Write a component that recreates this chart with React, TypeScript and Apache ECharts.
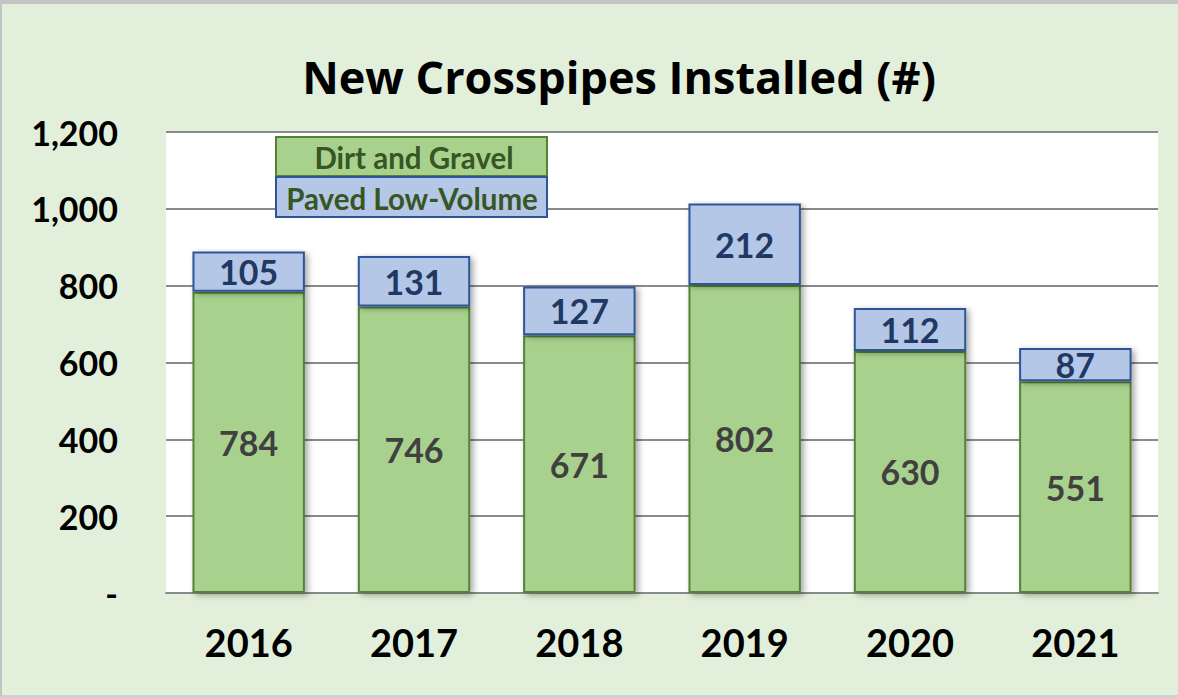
import React, { useEffect, useRef } from "react";
import * as echarts from "echarts";

const years = ["2016", "2017", "2018", "2019", "2020", "2021"];
const dirtGravel = [784, 746, 671, 802, 630, 551];
const pavedLowVolume = [105, 131, 127, 212, 112, 87];
const legendNames = ["Dirt and Gravel", "Paved Low-Volume"];
const titleText = "New Crosspipes Installed (#)";

const FONT = "Lato";

export default function App() {
  const ref = useRef<HTMLDivElement>(null);
  useEffect(() => {
    if (!ref.current) return;
    const chart = echarts.init(ref.current, undefined, { renderer: "svg" });
    const shadow = {
      shadowColor: "rgba(0,0,0,0.35)",
      shadowBlur: 6,
      shadowOffsetX: 3,
      shadowOffsetY: 2,
    };
    chart.setOption({
      animation: false,
      backgroundColor: "transparent",
      grid: {
        left: 166,
        right: 20,
        top: 132,
        bottom: 105,
        show: true,
        backgroundColor: "#ffffff",
        borderWidth: 0,
      },
      xAxis: {
        type: "category",
        data: years,
        axisTick: { show: false },
        axisLine: { show: true, lineStyle: { color: "#8a8a8a", width: 2 } },
        axisLabel: {
          margin: 30,
          color: "#000",
          fontFamily: FONT,
          fontWeight: "bold",
          fontSize: 38,
        },
      },
      yAxis: {
        type: "value",
        min: 0,
        max: 1200,
        interval: 200,
        axisLine: { show: false },
        axisTick: { show: false },
        splitLine: { lineStyle: { color: "#8a8a8a", width: 2 } },
        axisLabel: {
          margin: 48,
          color: "#000",
          fontFamily: FONT,
          fontWeight: "bold",
          fontSize: 34,
          formatter: (v: number) => (v === 0 ? "-" : v.toLocaleString("en-US")),
        },
      },
      series: [
        {
          name: legendNames[0],
          type: "bar",
          stack: "total",
          data: dirtGravel,
          barCategoryGap: "32%",
          itemStyle: { color: "#a9d18e", borderColor: "#548235", borderWidth: 2, ...shadow },
          label: {
            show: true,
            position: "inside",
            color: "#404040",
            fontFamily: FONT,
            fontWeight: "bold",
            fontSize: 34,
          },
        },
        {
          name: legendNames[1],
          type: "bar",
          stack: "total",
          data: pavedLowVolume,
          itemStyle: { color: "#b4c7e7", borderColor: "#2f5597", borderWidth: 2, ...shadow },
          label: {
            show: true,
            position: "inside",
            color: "#1f3864",
            fontFamily: FONT,
            fontWeight: "bold",
            fontSize: 34,
          },
        },
      ],
      graphic: [
        {
          type: "text",
          x: 619,
          y: 76,
          style: {
            text: titleText,
            fill: "#000",
            font: `bold 45px "Open Sans"`,
            align: "center",
            verticalAlign: "middle",
          },
        },
        {
          type: "rect",
          shape: { x: 276, y: 137, width: 271, height: 39 },
          style: { fill: "#a9d18e", stroke: "#548235", lineWidth: 2 },
          z: 10,
        },
        {
          type: "rect",
          shape: { x: 276, y: 177, width: 271, height: 40 },
          style: { fill: "#b4c7e7", stroke: "#2f5597", lineWidth: 2 },
          z: 10,
        },
        {
          type: "text",
          x: 414,
          y: 157,
          style: {
            text: legendNames[0],
            fill: "#375623",
            font: `bold 29.5px ${FONT}`,
            align: "center",
            verticalAlign: "middle",
          },
          z: 11,
        },
        {
          type: "text",
          x: 412,
          y: 198,
          style: {
            text: legendNames[1],
            fill: "#375623",
            font: `bold 29.5px ${FONT}`,
            align: "center",
            verticalAlign: "middle",
          },
          z: 11,
        },
      ],
    });
    return () => chart.dispose();
  }, []);
  return (
    <div
      style={{
        position: "absolute",
        left: 0,
        top: 0,
        width: 1178,
        height: 698,
        background: "#e2efda",
        overflow: "hidden",
      }}
    >
      <div ref={ref} style={{ width: 1178, height: 698, position: "absolute", left: 0, top: 0 }} />
      <div
        style={{
          position: "absolute",
          left: 0,
          top: 0,
          width: 1178,
          height: 698,
          boxSizing: "border-box",
          borderTop: "4px solid #c4c4c4",
          borderLeft: "2px solid #c4c4c4",
          borderBottom: "3px solid #d0d0d0",
          pointerEvents: "none",
        }}
      />
    </div>
  );
}
